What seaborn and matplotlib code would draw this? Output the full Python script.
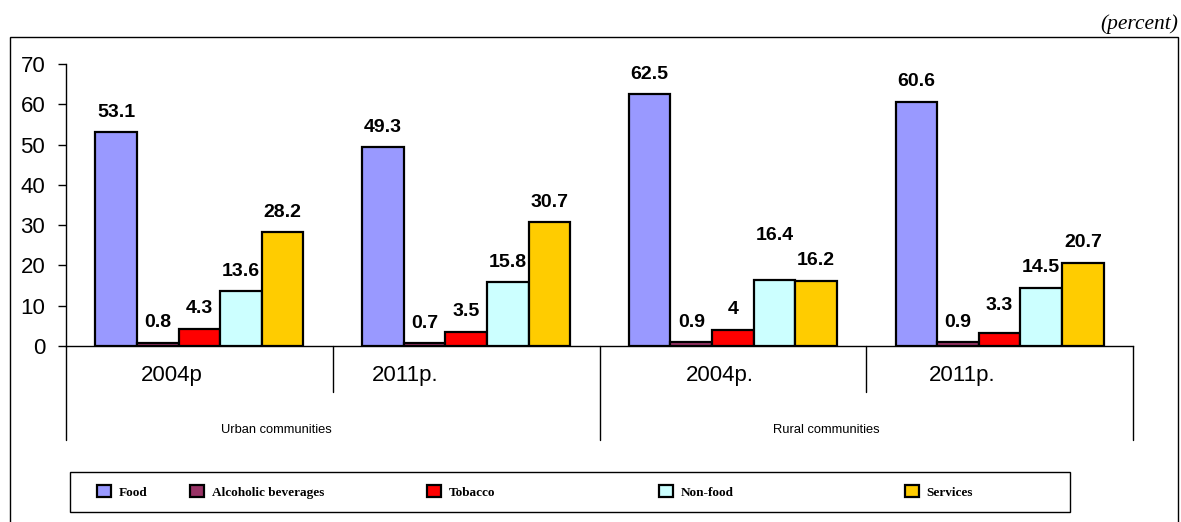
import seaborn as sns
import matplotlib
import matplotlib.pyplot as plt
import matplotlib.patches as mpatches
import pandas as pd

matplotlib.use("Agg")

# data
communities = ["Urban communities", "Urban communities", "Rural communities", "Rural communities"]
years = ["2004р", "2011р.", "2004р.", "2011р."]
items = ["Food", "Alcoholic beverages", "Tobacco", "Non-food", "Services"]
food = [53.1, 49.3, 62.5, 60.6]
alcohol = [0.8, 0.7, 0.9, 0.9]
tobacco = [4.3, 3.5, 4, 3.3]
nonfood = [13.6, 15.8, 16.4, 14.5]
services = [28.2, 30.7, 16.2, 20.7]

colors = ["#9999FF", "#993366", "#FF0000", "#CCFFFF", "#FFCC00"]

sns.set_style("white")
plt.rcParams['font.family'] = ['Liberation Sans', 'DejaVu Sans']
plt.rcParams['text.color'] = 'black'
plt.rcParams['ytick.color'] = 'black'
plt.rcParams['ytick.labelcolor'] = 'black'

rows = []
keys = [c + " " + y for c, y in zip(communities, years)]
for item, vals in zip(items, [food, alcohol, tobacco, nonfood, services]):
    for k, v in zip(keys, vals):
        rows.append({"period": k, "item": item, "value": v})
df = pd.DataFrame(rows)

W, H = 1181, 522
fig = plt.figure(figsize=(W/100, H/100), dpi=100)
ax = fig.add_axes([66/W, 176/H, 1067/W, 282/H])

sns.barplot(data=df, x="period", y="value", hue="item", order=keys, hue_order=items,
            palette=colors, width=0.78, edgecolor="black", linewidth=1.6,
            saturation=1, ax=ax)

handles, labels = ax.get_legend_handles_labels()
ax.get_legend().remove()

ax.set_xlim(-0.5, 3.5)
ax.set_ylim(0, 70)
ax.set_yticks(range(0, 71, 10))
ax.set_xticks([])
ax.set_xlabel("")
ax.set_ylabel("")
for s in ["top", "right"]:
    ax.spines[s].set_visible(False)
ax.spines["left"].set_color("black")
ax.spines["bottom"].set_color("black")
ax.spines["left"].set_linewidth(1)
ax.spines["bottom"].set_linewidth(1)
ax.tick_params(axis="y", direction="out", length=6, width=1, color="black",
               labelsize=16, pad=9, left=True)

# value labels; a couple of them sit a bit higher in the original
extra_lift = {(2, 3): 24, (3, 2): 7}
for hi, cont in enumerate(ax.containers):
    for gi, bar in enumerate(cont):
        v = bar.get_height()
        lift = 20 + extra_lift.get((gi, hi), 0)
        ax.annotate(f"{v:g}", (bar.get_x() + bar.get_width()/2, v),
                    xytext=(0, lift*0.72), textcoords="offset points",
                    ha="center", va="center", fontsize=14, fontweight="bold")

# two-level category axis below the plot
tr = ax.get_xaxis_transform()
for x, depth in [(-0.5, -0.333), (0.5, -0.163), (1.5, -0.333), (2.5, -0.163), (3.5, -0.333)]:
    ax.plot([x, x], [0, depth], color="black", lw=1, transform=tr, clip_on=False)
year_shift = [-0.105, -0.229, -0.049, -0.142]
for i, y in enumerate(years):
    ax.text(i + year_shift[i], -0.106, y, transform=tr, ha="center", va="center",
            fontsize=16)
for i, shift in [(0, -0.21), (2, -0.15)]:
    ax.text(i + 0.5 + shift, -0.298, communities[i], transform=tr, ha="center",
            va="center", fontsize=9.3)

# outer frame and unit note
fig.patches.append(mpatches.Rectangle((10/W, -0.05), 1168/W, 0.05 + 485/H,
                                      transform=fig.transFigure, fill=False,
                                      edgecolor="black", lw=1))
fig.text(1178/W, 1 - 24/H, "(percent)", ha="right", va="center",
         fontsize=15.5, style="italic", family="Liberation Serif")

# legend box with its entries spread as in the original
fig.patches.append(mpatches.Rectangle((70/W, 1 - 512/H), 1000/W, 40/H,
                                      transform=fig.transFigure, fill=False,
                                      edgecolor="black", lw=1))
entry_x = [97, 190, 427, 659, 905]
for h, lab, x in zip(handles, labels, entry_x):
    fig.legend([h], [lab], loc="center left", bbox_to_anchor=(x/W, 1 - 492/H),
               bbox_transform=fig.transFigure, frameon=False, borderpad=0,
               borderaxespad=0, handlelength=1.05, handleheight=1.05,
               handletextpad=0.6,
               prop={"family": "Liberation Serif", "weight": "bold", "size": 9.5})

fig.savefig("out.png", dpi=100)
